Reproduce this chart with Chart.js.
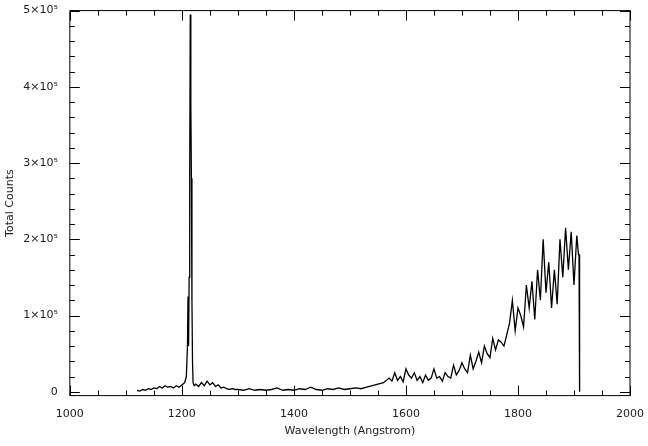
<!DOCTYPE html>
<html><head><meta charset="utf-8">
<script src="https://cdn.jsdelivr.net/npm/chart.js@4/dist/chart.umd.min.js"></script>
<style>body{margin:0;background:#fff}#wrap{width:648px;height:446px}</style>
</head><body><div id="wrap"><canvas id="c"></canvas></div>
<script>
// wavelength (Angstrom) and total counts (thousands)
const wavelengths = [1120,1125,1130,1135,1140,1145,1150,1155,1160,1165,1170,1175,1180,1185,1190,1195,1200,1205,1208,1210,1211,1212,1213,1214,1215,1216,1217,1218,1219,1220,1222,1225,1230,1235,1240,1245,1250,1255,1260,1265,1270,1275,1280,1285,1290,1295,1300,1310,1320,1330,1340,1350,1360,1370,1380,1390,1400,1410,1420,1430,1440,1450,1460,1470,1480,1490,1500,1510,1520,1530,1540,1550,1560,1570,1575,1580,1585,1590,1595,1600,1605,1610,1615,1620,1625,1630,1635,1640,1645,1650,1655,1660,1665,1670,1675,1680,1685,1690,1695,1700,1705,1710,1715,1720,1725,1730,1735,1740,1745,1750,1755,1760,1765,1770,1775,1780,1785,1790,1795,1800,1805,1810,1815,1820,1825,1830,1835,1840,1845,1850,1855,1860,1865,1870,1875,1880,1885,1890,1895,1900,1905,1908,1909,1910];
const counts = [2,1,3,2,4,3,5,4,7,5,8,6,7,5,8,6,9,12,20,60,125,60,150,280,495,380,280,120,40,12,8,10,7,12,8,14,9,12,7,9,5,6,4,3,4,3,3,2,4,2,3,2,3,5,2,3,2,4,3,6,3,2,4,3,5,3,4,5,4,6,8,10,12,18,14,25,15,20,13,30,22,18,25,15,20,12,22,15,18,30,18,20,14,25,20,18,35,22,28,38,30,25,48,30,40,52,38,60,50,45,70,55,68,65,60,75,90,120,80,110,100,85,140,110,145,95,160,120,200,130,170,110,160,115,200,150,215,160,210,140,205,180,180,0];
const xTicks = [1000,1200,1400,1600,1800,2000];
const yTicks = [0,100000,200000,300000,400000,500000];
const yLabels = ['0','1×10⁵','2×10⁵','3×10⁵','4×10⁵','5×10⁵'];

const points = wavelengths.map((w, i) => ({x: w, y: counts[i] * 1000}));

const innerTicks = {
  id: 'innerTicks',
  afterDraw(chart) {
    const {ctx, chartArea: a, scales: {x, y}} = chart;
    ctx.save();
    ctx.strokeStyle = '#000';
    ctx.lineWidth = 1;
    ctx.strokeRect(a.left, a.top, a.right - a.left, a.bottom - a.top);
    ctx.beginPath();
    for (let v = 1000; v <= 2000; v += 50) {
      const px = Math.round(x.getPixelForValue(v)) + 0.5;
      const len = v % 200 === 0 ? 10 : 5;
      ctx.moveTo(px, a.bottom); ctx.lineTo(px, a.bottom - len);
      ctx.moveTo(px, a.top); ctx.lineTo(px, a.top + len);
    }
    for (let v = 0; v <= 500000; v += 20000) {
      const py = Math.round(y.getPixelForValue(v)) + 0.5;
      const len = v % 100000 === 0 ? 10 : 5;
      ctx.moveTo(a.left, py); ctx.lineTo(a.left + len, py);
      ctx.moveTo(a.right, py); ctx.lineTo(a.right - len, py);
    }
    ctx.stroke();
    ctx.restore();
  }
};

const font = {family: 'DejaVu Sans', size: 11};
new Chart('c', {
  type: 'line',
  data: {datasets: [{data: points, borderColor: '#000', borderWidth: 1.3, pointRadius: 0, tension: 0}]},
  options: {
    animation: false, responsive: true, maintainAspectRatio: false,
    layout: {padding: {top: 8, right: 16, bottom: 4, left: 0}},
    plugins: {legend: {display: false}, tooltip: {enabled: false}},
    scales: {
      x: {
        type: 'linear', min: 1000, max: 2000,
        afterBuildTicks: s => { s.ticks = xTicks.map(v => ({value: v})); },
        grid: {display: false}, border: {display: false},
        ticks: {color: '#222', font, padding: 4, maxRotation: 0, callback: v => String(v)},
        title: {display: true, text: 'Wavelength (Angstrom)', color: '#222', font, padding: {top: 0}}
      },
      y: {
        min: -5000, max: 500000,
        afterBuildTicks: s => { s.ticks = yTicks.map(v => ({value: v})); },
        grid: {display: false}, border: {display: false},
        ticks: {color: '#222', font, padding: 4,
          callback: (v) => yLabels[yTicks.indexOf(v)]},
        title: {display: true, text: 'Total Counts', color: '#222', font, padding: {bottom: 2}}
      }
    }
  },
  plugins: [innerTicks]
});
</script></body></html>
